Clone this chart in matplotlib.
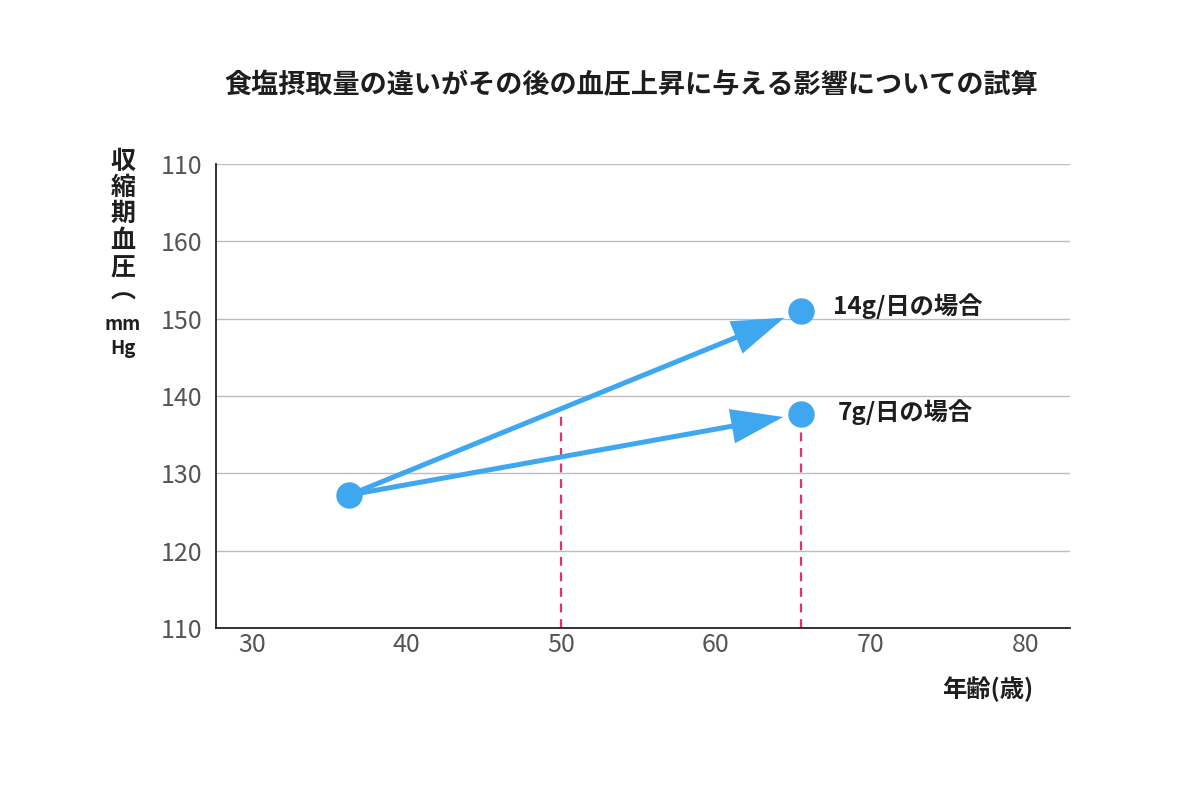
import matplotlib
matplotlib.use("Agg")
import matplotlib.pyplot as plt

plt.rcParams['font.family'] = ['Noto Sans CJK JP', 'DejaVu Sans']

# ---- data ----
title = "食塩摂取量の違いがその後の血圧上昇に与える影響についての試算"
x_ticks = [30, 40, 50, 60, 70, 80]
y_ticks = [110, 120, 130, 140, 150, 160, 170]
y_tick_labels = ["110", "120", "130", "140", "150", "160", "110"]
start_age = 36.3
start_bp = 127.2
end_age = 65.5
end_bp_14g = 151.0
end_bp_7g = 137.7
mark_age = 50
series_labels = ["14g/日の場合", "7g/日の場合"]
x_label = "年齢(歳)"
y_label_chars = ["収", "縮", "期", "血", "圧"]

blue = "#3FA6F0"
pink = "#E0336A"
dark = "#1e1e1e"

fig = plt.figure(figsize=(12, 8), dpi=100)
ax = fig.add_axes([0.18, 0.215, 0.7117, 0.58])
ax.set_xlim(27.67, 82.9)
ax.set_ylim(110, 170)
ax.set_xticks(x_ticks)
ax.set_xticklabels([str(v) for v in x_ticks])
ax.set_yticks(y_ticks)
ax.set_yticklabels(y_tick_labels)
ax.tick_params(length=0, labelsize=18, labelcolor="#555555")
ax.tick_params(axis='y', pad=10)
ax.tick_params(axis='x', pad=3)
ax.grid(axis='y', color="#bdbdbd", lw=1)
ax.set_axisbelow(True)
for s in ["top", "right"]:
    ax.spines[s].set_visible(False)
for s in ["left", "bottom"]:
    ax.spines[s].set_color("#222222")
    ax.spines[s].set_linewidth(1.3)

# dashed guide lines
slope14 = (end_bp_14g - start_bp) / (end_age - start_age)
bp_at_mark = start_bp + slope14 * (mark_age - start_age)
ax.plot([mark_age, mark_age], [110, bp_at_mark], color=pink, lw=1.6,
        dashes=(4, 3), zorder=2)
ax.plot([end_age, end_age], [110, end_bp_7g - 2.2], color=pink, lw=1.6,
        dashes=(4, 3), zorder=2)

# arrows
for end_bp in [end_bp_14g, end_bp_7g]:
    ax.annotate("", xy=(end_age, end_bp), xytext=(start_age, start_bp),
                arrowprops=dict(arrowstyle="-|>,head_length=3.0,head_width=1.0",
                                color=blue, lw=3.6, shrinkA=0, shrinkB=13,
                                joinstyle="miter"),
                zorder=3)

# markers
ax.plot([start_age], [start_bp], 'o', ms=18, color=blue, zorder=4)
ax.plot([end_age, end_age], [end_bp_14g, end_bp_7g], 'o', ms=18, color=blue, zorder=4)

# series labels
ax.text(end_age + 2.1, end_bp_14g + 0.6, series_labels[0], fontsize=17.5,
        fontweight='bold', color=dark, va='center', ha='left')
ax.text(end_age + 2.4, end_bp_7g + 0.2, series_labels[1], fontsize=17.5,
        fontweight='bold', color=dark, va='center', ha='left')

# title
fig.text(0.526, 0.893, title, fontsize=19.5, fontweight='bold',
         color=dark, ha='center', va='center')

# x label
fig.text(1033 / 1200, 1 - 689 / 800, x_label, fontsize=17.5, fontweight='bold',
         color=dark, ha='right', va='center')

# vertical y label
ycs = [162, 188, 214, 241, 268]
for ch, yc in zip(y_label_chars, ycs):
    fig.text(123 / 1200, 1 - yc / 800, ch, fontsize=18, fontweight='bold',
             color=dark, ha='center', va='center')
fig.text(123 / 1200, 1 - 292 / 800, "︵", fontsize=18, fontweight='bold',
         color=dark, ha='center', va='center')
fig.text(123 / 1200, 1 - 324 / 800, "mm", fontsize=13.5, fontweight='bold',
         color=dark, ha='center', va='center')
fig.text(123 / 1200, 1 - 348 / 800, "Hg", fontsize=13.5, fontweight='bold',
         color=dark, ha='center', va='center')

fig.savefig("out.png", dpi=100, facecolor="white")
